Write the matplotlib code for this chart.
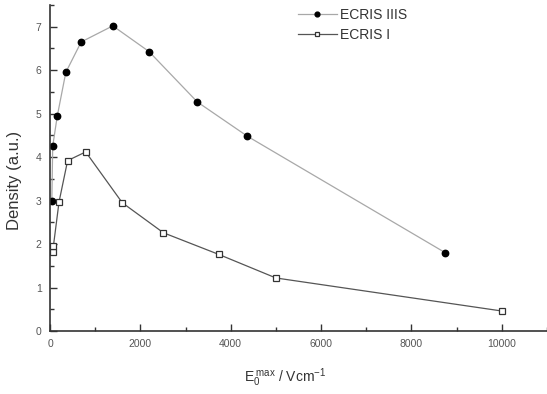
import matplotlib
matplotlib.use("Agg")
import matplotlib.pyplot as plt
from matplotlib.ticker import MultipleLocator

plt.rcParams['font.family'] = ['Liberation Sans', 'DejaVu Sans']
plt.rcParams['mathtext.fontset'] = 'custom'
plt.rcParams['mathtext.rm'] = 'Liberation Sans'
plt.rcParams['mathtext.it'] = 'Liberation Sans'

# Density vs. maximum field strength
field_iiis = [40, 60, 160, 350, 690, 1390, 2190, 3260, 4370, 8750]
density_iiis = [2.98, 4.25, 4.94, 5.95, 6.65, 7.02, 6.43, 5.27, 4.48, 1.80]

field_i = [60, 75, 200, 390, 790, 1600, 2510, 3740, 5000, 10000]
density_i = [1.82, 1.95, 2.97, 3.92, 4.12, 2.95, 2.26, 1.76, 1.22, 0.46]

xticks = [0, 2000, 4000, 6000, 8000, 10000]
xtick_labels = ['0', '2000', '4000', '6000', '8000', '10000']
yticks = [0, 1, 2, 3, 4, 5, 6, 7]

fig = plt.figure(figsize=(5.47, 3.94), dpi=100)
ax = fig.add_axes([50 / 547, 1 - 331 / 394, 497 / 547, 326 / 394])

ax.plot(field_iiis, density_iiis, color='#a8a8a8', lw=0.9,
        marker='o', ms=4.6, mfc='black', mec='black', label='ECRIS IIIS')
ax.plot(field_i, density_i, color='#555555', lw=0.9,
        marker='s', ms=4.8, mfc='white', mec='#333333', mew=0.9, label='ECRIS I')

ax.set_xlim(0, 11000)
ax.set_ylim(0, 7.5)
ax.set_xticks(xticks)
ax.set_xticklabels(xtick_labels)
ax.set_yticks(yticks)
ax.xaxis.set_minor_locator(MultipleLocator(1000))
ax.yaxis.set_minor_locator(MultipleLocator(0.5))

for side in ['top', 'right']:
    ax.spines[side].set_visible(False)
for side in ['left', 'bottom']:
    ax.spines[side].set_color('#333333')
    ax.spines[side].set_linewidth(1.2)

ax.tick_params(which='major', direction='in', length=5, width=1, color='#333333',
               labelsize=7.5, labelcolor='#555555', pad=6)
ax.tick_params(which='minor', direction='in', length=3, width=1, color='#333333')

ax.set_xlabel(r'$\mathregular{E_0^{\;max}}$ / Vcm$^{\mathregular{-1}}$',
              fontsize=10, color='#333333')
ax.xaxis.set_label_coords((285 - 50) / 497, -(378 - 331) / 326)
ax.xaxis.label.set_verticalalignment('center')
ax.set_ylabel('Density (a.u.)', fontsize=12, color='#333333')
ax.yaxis.set_label_coords(-35 / 497, (331 - 180) / 326)
ax.yaxis.label.set_verticalalignment('center')

leg = ax.legend(loc='upper left', bbox_to_anchor=(298 / 547, 1 - 8 / 394),
                bbox_transform=fig.transFigure, frameon=False, borderpad=0,
                borderaxespad=0, fontsize=10, handlelength=2.8, handletextpad=0.25,
                labelspacing=0.45, markerscale=0.75, labelcolor='#333333')

fig.savefig('out.png', dpi=100)
